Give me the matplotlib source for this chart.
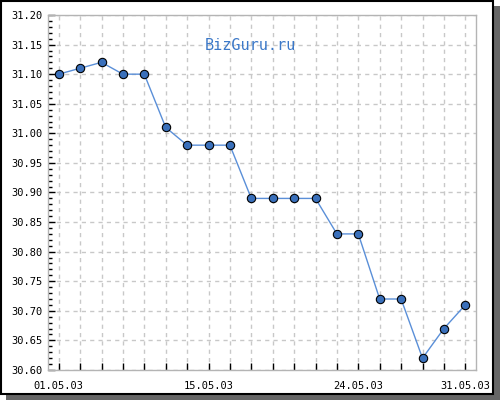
import numpy as np
import matplotlib
matplotlib.use('Agg')
import matplotlib.pyplot as plt
from matplotlib.patches import Rectangle
from matplotlib.ticker import MultipleLocator

### Data (trading days, May 2003)
dates = ['01.05.03', '', '', '', '', '', '', '15.05.03', '', '', '', '', '', '',
         '24.05.03', '', '', '', '', '31.05.03']
rates = [31.10, 31.11, 31.12, 31.10, 31.10, 31.01, 30.98, 30.98, 30.98, 30.89,
         30.89, 30.89, 30.89, 30.83, 30.83, 30.72, 30.72, 30.62, 30.67, 30.71]
yticks = np.arange(30.60, 31.2001, 0.05)

### Figure with frame and shadow
fig = plt.figure(figsize=(5, 4), dpi=100)
fig.patch.set_facecolor('white')
fig.patches.append(Rectangle((6/500, 0), 494/500, 394/400, transform=fig.transFigure,
                             facecolor='#666666', edgecolor='none', zorder=-2))
fig.patches.append(Rectangle((1/500, 6/400), 492/500, 393/400, transform=fig.transFigure,
                             facecolor='white', edgecolor='black', linewidth=1.5, zorder=-1))

ax = fig.add_axes([48/500, 30/400, 428/500, 355/400])
ax.set_facecolor('white')
x = np.arange(len(rates))

ax.plot(x, rates, color='#5a8fd8', linewidth=1, zorder=3)
ax.plot(x, rates, linestyle='none', marker='o', markersize=6,
        markerfacecolor='#3a70bb', markeredgecolor='black', markeredgewidth=0.8, zorder=4)

ax.set_xlim(-0.5, len(rates) - 0.5)
ax.set_ylim(30.60, 31.20)
ax.set_xticks(x)
ax.set_xticklabels(dates)
ax.set_yticks(yticks)
ax.set_yticklabels(['%.2f' % v for v in yticks])
ax.yaxis.set_minor_locator(MultipleLocator(0.01))

for s in ax.spines.values():
    s.set_color('#b4b4b4')
    s.set_linewidth(1)

ax.tick_params(axis='both', which='major', direction='in', length=5, width=1,
               color='black', labelsize=7.5, labelcolor='black')
ax.tick_params(axis='y', which='minor', direction='in', length=3, width=1, color='black')
ax.tick_params(axis='x', pad=8)
ax.tick_params(axis='y', pad=4)
for lab in ax.get_xticklabels() + ax.get_yticklabels():
    lab.set_family('DejaVu Sans Mono')

ax.grid(True, which='major', color='#c8c8c8', linestyle=(0, (3, 3)), linewidth=1)
ax.set_axisbelow(True)

fig.text(0.5, 1 - 45/400, 'BizGuru.ru', color='#3b78c8', fontsize=11,
         family='DejaVu Sans Mono', ha='center', va='center')

plt.savefig('out.png', dpi=100)
